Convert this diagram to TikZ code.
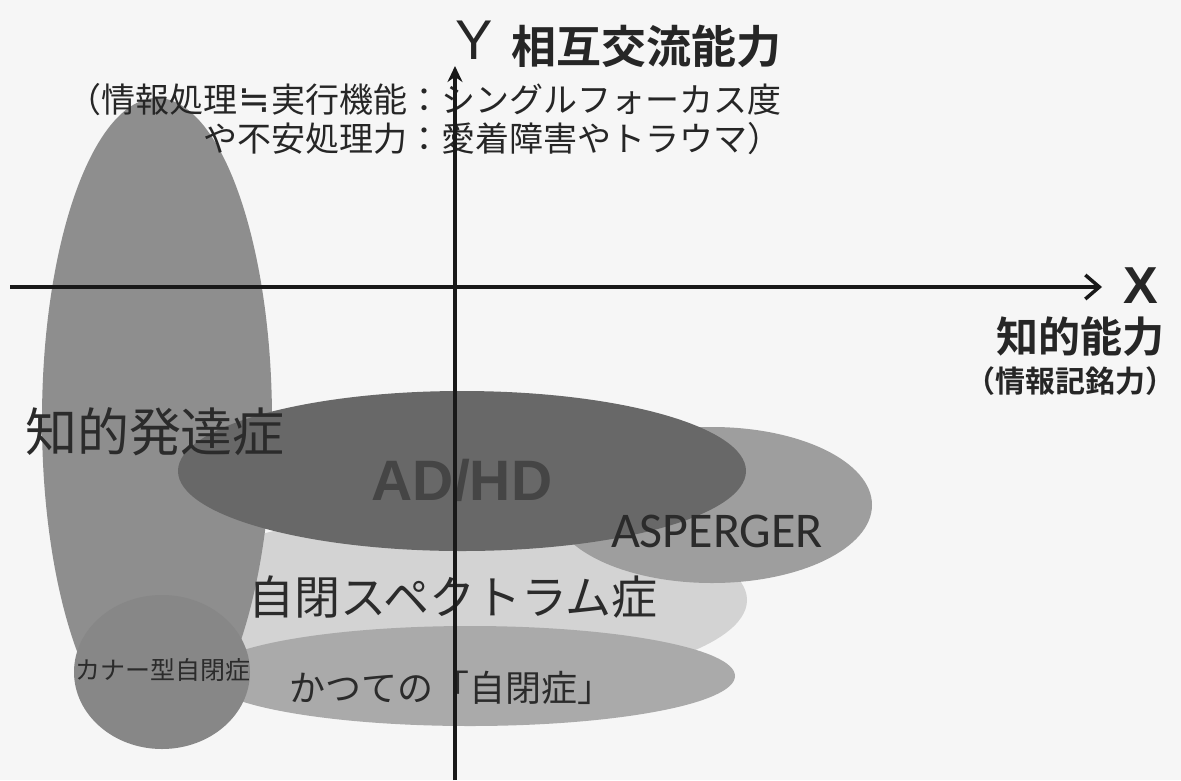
\documentclass[tikz,border=0pt]{standalone}
\usepackage{fontspec}
\setmainfont{Liberation Sans}
\newfontfamily\jp[BoldFont=Noto Sans CJK JP Bold]{Noto Sans CJK JP}
\newfontfamily\carl{Carlito}
\newfontfamily\dejavu{DejaVu Sans}
\usetikzlibrary{arrows.meta}
\definecolor{bgc}{HTML}{F6F6F6}
\definecolor{idc}{HTML}{8E8E8E}
\definecolor{adc}{HTML}{686868}
\definecolor{asc}{HTML}{9E9E9E}
\definecolor{asdc}{HTML}{D3D3D3}
\definecolor{autc}{HTML}{AAAAAA}
\definecolor{kanc}{HTML}{878787}
\definecolor{txt}{HTML}{2B2B2B}
\definecolor{adtxt}{HTML}{454545}
\tikzset{
  lbl/.style={inner sep=0pt, text=txt},
  axisline/.style={line width=3.5pt, draw=black!90},
}
\newcommand{\fs}[1]{\fontsize{#1}{#1}\selectfont}
\begin{document}
\begin{tikzpicture}[x=1pt,y=-1pt]
\useasboundingbox (0,0) rectangle (1181,780);
\fill[bgc] (0,0) rectangle (1181,780);
% regions
\fill[asdc] (455,600) ellipse [x radius=292, y radius=88];
\fill[autc] (470,676) ellipse [x radius=265, y radius=50];
\fill[asc] (712,505) ellipse [x radius=160, y radius=78];
\fill[idc] (157,420) ellipse [x radius=115, y radius=322];
\fill[adc] (462,471) ellipse [x radius=284, y radius=80];
\fill[kanc] (162,672) ellipse [x radius=88, y radius=77];
% labels
\node[lbl, font=\jp\fs{52}] (id) at (155,432) {知的発達症};
\node[lbl, font=\bfseries\fs{57}, text=adtxt] (ad) at (462,480) {AD/HD};
\node[lbl, font=\carl\fs{50}] (as) at (717,531) {ASPERGER};
\node[lbl, font=\jp\fs{46}] (asd) at (453,597) {自閉スペクトラム症};
\node[lbl, font=\jp\fs{25}] (kan) at (163,670) {カナー型自閉症};
\node[lbl, font=\jp\fs{36}] (aut) at (451,688) {かつての「自閉症」};
% axis titles
\node[lbl, font=\fs{56}, text=black!85] (ylab) at (474,40) {Y};
\node[lbl, font=\jp\bfseries\fs{45}, text=black!85] (ytitle) at (646,46) {相互交流能力};
\node[lbl, font=\jp\fs{34}, anchor=east, text=black!85] (ysub1) at (782,100) {（情報処理\makebox[34pt]{\dejavu\fs{38}≒}実行機能：シングルフォーカス度};
\node[lbl, font=\jp\fs{34}, anchor=east, text=black!85] (ysub2) at (782,139) {や不安処理力：愛着障害やトラウマ）};
\node[lbl, font=\bfseries\fs{52}, text=black!85] (xlab) at (1141,286) {X};
\node[lbl, font=\jp\bfseries\fs{42}, text=black!85] (xtitle) at (1080,337) {知的能力};
\node[lbl, font=\jp\bfseries\fs{30}, text=black!85] (xsub) at (1070,381) {（情報記銘力）};
% axes
\coordinate (ybot) at (455,780);
\coordinate (ytop) at (455,66);
\coordinate (xleft) at (10,287);
\coordinate (xright) at (1102,287);
\draw[axisline, -{Stealth[length=16pt,width=15pt]}] (ybot) -- (ytop);
\draw[axisline, -{Straight Barb[length=14pt,width=24pt,line width=3.5pt]}] (xleft) -- (xright);
\end{tikzpicture}
\end{document}
